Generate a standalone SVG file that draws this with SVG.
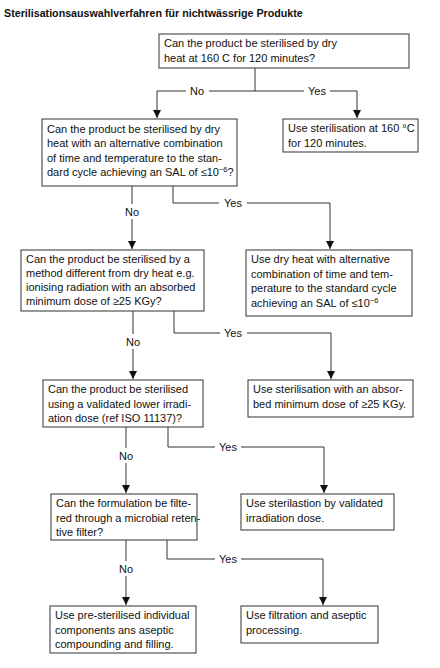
<svg xmlns="http://www.w3.org/2000/svg" width="440" height="668" viewBox="0 0 440 668">
<style>
text{font-family:"Liberation Sans",Arial,sans-serif;font-size:11px;fill:#111}
.title{font-weight:bold;font-size:10.7px}
.box{fill:#fff;stroke:#444;stroke-width:1.1}
.lbl{text-anchor:middle}
.conn line,.conn polyline{fill:none;stroke:#333;stroke-width:1}
.sup{font-size:7.5px}
</style>
<defs>
<marker id="ah" viewBox="0 0 8 8" refX="8" refY="4" markerWidth="8" markerHeight="8" markerUnits="userSpaceOnUse" orient="auto">
<path d="M0,0 L8,4 L0,8 z" fill="#111"/>
</marker>
</defs>
<rect width="440" height="668" fill="#fff"/>
<text class="title" x="4" y="17">Sterilisationsauswahlverfahren für nichtwässrige Produkte</text>

<g class="conn">
<line x1="255" y1="68" x2="255" y2="91"/>
<polyline points="186,91 157,91 157,118" marker-end="url(#ah)"/>
<line x1="209" y1="91" x2="255" y2="91"/>
<line x1="255" y1="91" x2="304" y2="91"/>
<polyline points="330,91 357,91 357,118" marker-end="url(#ah)"/>

<line x1="132" y1="186" x2="132" y2="204"/>
<line x1="132" y1="219" x2="132" y2="249" marker-end="url(#ah)"/>
<polyline points="173,186 173,203 219,203"/>
<polyline points="247,203 330,203 330,249" marker-end="url(#ah)"/>

<line x1="133" y1="311" x2="133" y2="334"/>
<line x1="133" y1="349" x2="133" y2="379" marker-end="url(#ah)"/>
<polyline points="174,311 174,333 220,333"/>
<polyline points="247,333 331,333 331,379" marker-end="url(#ah)"/>

<line x1="126" y1="427" x2="126" y2="448"/>
<line x1="126" y1="463" x2="126" y2="493" marker-end="url(#ah)"/>
<polyline points="168,427 168,447 215,447"/>
<polyline points="241,447 324,447 324,493" marker-end="url(#ah)"/>

<line x1="126" y1="540" x2="126" y2="561"/>
<line x1="126" y1="576" x2="126" y2="605" marker-end="url(#ah)"/>
<polyline points="167,540 167,559 215,559"/>
<polyline points="241,559 323,559 323,605" marker-end="url(#ah)"/>

<text class="lbl" x="197" y="95">No</text>
<text class="lbl" x="317" y="95">Yes</text>
<text class="lbl" x="132" y="216">No</text>
<text class="lbl" x="233" y="207">Yes</text>
<text class="lbl" x="133" y="346">No</text>
<text class="lbl" x="233" y="337">Yes</text>
<text class="lbl" x="126" y="460">No</text>
<text class="lbl" x="228" y="451">Yes</text>
<text class="lbl" x="126" y="573">No</text>
<text class="lbl" x="228" y="563">Yes</text>
</g>

<g id="q1">
<rect class="box" x="159" y="34" width="250" height="34"/>
<text x="164" y="47">Can the product be sterilised by dry</text>
<text x="164" y="62">heat at 160 C for 120 minutes?</text>
</g>
<g id="a1">
<rect class="box" x="283" y="119" width="135" height="33"/>
<text x="288" y="132">Use sterilisation at 160 °C</text>
<text x="288" y="147">for 120 minutes.</text>
</g>
<g id="q2">
<rect class="box" x="42" y="119" width="195" height="67"/>
<text x="47" y="132.5">Can the product be sterilised by dry</text>
<text x="47" y="147">heat with an alternative combination</text>
<text x="47" y="161.5">of time and temperature to the stan-</text>
<text x="47" y="176">dard cycle achieving an SAL of ≤10<tspan class="sup" dy="-4">−6</tspan><tspan dy="4">?</tspan></text>
</g>
<g id="a2">
<rect class="box" x="246" y="250" width="166" height="66"/>
<text x="251" y="263">Use dry heat with alternative</text>
<text x="251" y="277.5">combination of time and tem-</text>
<text x="251" y="292">perature to the standard cycle</text>
<text x="251" y="306.5">achieving an SAL of ≤10<tspan class="sup" dy="-4">−6</tspan></text>
</g>
<g id="q3">
<rect class="box" x="21" y="250" width="183" height="61"/>
<text x="26" y="263">Can the product be sterilised by a</text>
<text x="26" y="277">method different from dry heat e.g.</text>
<text x="26" y="291">ionising radiation with an absorbed</text>
<text x="26" y="305">minimum dose of ≥25 KGy?</text>
</g>
<g id="a3">
<rect class="box" x="248" y="380" width="165" height="37"/>
<text x="253" y="393">Use sterilisation with an absor-</text>
<text x="253" y="408">bed minimum dose of ≥25 KGy.</text>
</g>
<g id="q4">
<rect class="box" x="43" y="380" width="160" height="47"/>
<text x="48" y="393">Can the product be sterilised</text>
<text x="48" y="407.5">using a validated lower irradi-</text>
<text x="48" y="422">ation dose (ref ISO 11137)?</text>
</g>
<g id="a4">
<rect class="box" x="241" y="494" width="153" height="36"/>
<text x="246" y="507">Use sterilastion by validated</text>
<text x="246" y="521.5">irradiation dose.</text>
</g>
<g id="q5">
<rect class="box" x="51" y="494" width="146" height="46"/>
<text x="56" y="507">Can the formulation be filte-</text>
<text x="56" y="521.5">red through a microbial reten-</text>
<text x="56" y="536">tive filter?</text>
</g>
<g id="a5">
<rect class="box" x="241" y="606" width="137" height="37"/>
<text x="246" y="619">Use filtration and aseptic</text>
<text x="246" y="633.5">processing.</text>
</g>
<g id="a6">
<rect class="box" x="50" y="606" width="146" height="47"/>
<text x="55" y="619">Use pre-sterilised individual</text>
<text x="55" y="633.5">components ans aseptic</text>
<text x="55" y="648">compounding and filling.</text>
</g>
</svg>
